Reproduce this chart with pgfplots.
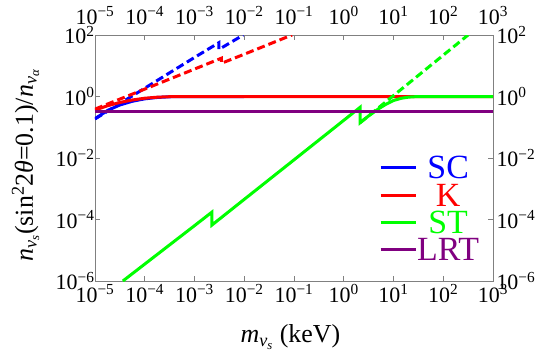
\documentclass[border=0pt]{standalone}
\usepackage{fontspec}
\setmainfont{Liberation Serif}
\usepackage{pgfplots}
\pgfplotsset{compat=1.18}
\newcommand{\tp}[1]{10\textsuperscript{#1}}
\definecolor{pur}{rgb}{0.5,0,0.5}
\definecolor{grn}{rgb}{0,1,0}
\pgfplotsset{
  legend image code/.code={\draw[#1] (0bp,0bp) -- (35bp,0bp);},
}
\begin{document}
\begin{tikzpicture}
\useasboundingbox (-95bp,-76bp) rectangle (450bp,281bp);
\begin{axis}[
    xmode=log, ymode=log,
    scale only axis, width=398bp, height=246bp,
    xmin=1e-5, xmax=1e3, ymin=1e-6, ymax=1e2,
    xtick={1e-5,1e-4,1e-3,1e-2,1e-1,1,10,100,1000},
    xticklabels={\tp{−5},\tp{−4},\tp{−3},\tp{−2},\tp{−1},\tp{0},\tp{1},\tp{2},\tp{3}},
    ytick={1e-6,1e-4,1e-2,1,100},
    yticklabels={\tp{−6},\tp{−4},\tp{−2},\tp{0},\tp{2}},
    minor tick length=0pt,
    major tick length=5bp,
    tick align=inside,
    tick style={gray, line width=0.6bp},
    axis line style={gray, line width=0.8bp},
    ticklabel style={font=\fontsize{22}{22}\selectfont},
  yticklabel style={xshift=3bp},
  xlabel={\textit{m}\textsubscript{\textit{ν}\textsubscript{\textit{s}}} (keV)},
  ylabel={\textit{n}\textsubscript{\textit{ν}\textsubscript{\textit{s}}}(sin\textsuperscript{2}2\textit{θ}=0.1)/\textit{n}\textsubscript{\textit{ν}\textsubscript{\textit{α}}}},
  label style={font=\fontsize{26}{26}\selectfont},
  xlabel style={at={(axis description cs:0.491,-0.252)}, anchor=base},
  ylabel style={at={(axis description cs:-0.156,0.47)}, anchor=base},
  legend cell align=center,
  legend style={at={(axis description cs:0.7136,0.506)}, anchor=north west, draw=none, fill=none,
    inner xsep=0pt, inner ysep=0pt, row sep=5.3bp,
    font=\fontsize{34}{34}\selectfont,
    nodes={inner sep=0pt, text height=22bp, text depth=0bp}},
]
% SC dashed
\addplot[blue, line width=3bp, dash pattern=on 8bp off 4bp, forget plot] coordinates {
(1e-5,0.186) (3.16e-5,0.59) (1e-4,1.86) (3.16e-4,5.9) (1e-3,18.6) (3.09e-3,56.2) (3.09e-3,33.9) (9.55e-3,100)
};
% SC solid
\addplot[blue, line width=3bp, forget plot] coordinates {
(1e-5,0.19) (1.78e-5,0.35) (3.16e-5,0.53) (5.62e-5,0.70) (1e-4,0.84) (1.78e-4,0.93) (3.16e-4,0.98) (5.62e-4,1.0) (1e-2,1.0)
};
% K dashed
\addplot[red, line width=3bp, dash pattern=on 8bp off 4bp, forget plot] coordinates {
(1e-5,0.39) (1e-4,1.74) (1e-3,7.8) (3.47e-3,17.6) (3.47e-3,12.0) (1e-2,23.7) (9.12e-2,100)
};
% K solid
\addplot[red, line width=3bp, forget plot] coordinates {
(1e-5,0.36) (1.78e-5,0.5) (3.16e-5,0.64) (5.62e-5,0.77) (1e-4,0.88) (1.78e-4,0.95) (3.16e-4,0.985) (5.62e-4,1.0) (1e3,1.0)
};
% ST solid
\addplot[grn, line width=3bp, forget plot] coordinates {
(3.63e-5,1e-6) (1e-4,3.55e-6) (1e-3,6.3e-5) (2.24e-3,1.74e-4) (2.24e-3,6.6e-5) (1e-2,4.52e-4) (1e-1,8.7e-3) (1,0.168) (2.14,0.447)
(2.14,0.141) (3.16,0.234) (5.01,0.398) (7.08,0.562) (10,0.741) (14.1,0.871) (20,0.955) (31.6,1.0) (1000,1.0)
};
% ST dashed
\addplot[grn, line width=3bp, dash pattern=on 8bp off 4bp, forget plot] coordinates {
(2.14,0.141) (316,100)
};
% LRT
\addplot[pur, line width=3bp, forget plot] coordinates {
(1e-5,0.316) (1e3,0.316)
};
\addlegendimage{blue, line width=3bp}
\addlegendentry{\textcolor{blue}{SC}}
\addlegendimage{red, line width=3bp}
\addlegendentry{\textcolor{red}{K}}
\addlegendimage{grn, line width=3bp}
\addlegendentry{\textcolor{grn}{ST}}
\addlegendimage{pur, line width=3bp}
\addlegendentry{\textcolor{pur}{LRT}}
\end{axis}
\begin{axis}[
    xmode=log, ymode=log,
    scale only axis, width=398bp, height=246bp,
    xmin=1e-5, xmax=1e3, ymin=1e-6, ymax=1e2,
    xtick={1e-5,1e-4,1e-3,1e-2,1e-1,1,10,100,1000},
    xticklabels={\tp{−5},\tp{−4},\tp{−3},\tp{−2},\tp{−1},\tp{0},\tp{1},\tp{2},\tp{3}},
    ytick={1e-6,1e-4,1e-2,1,100},
    yticklabels={\tp{−6},\tp{−4},\tp{−2},\tp{0},\tp{2}},
    ticklabel style={font=\fontsize{22}{22}\selectfont},
  xticklabel pos=right, yticklabel pos=right,
  axis line style={draw=none}, tick style={draw=none},
  xticklabel style={yshift=7bp},
]
\addplot[draw=none, forget plot] coordinates {(1,1)};
\end{axis}
\end{tikzpicture}
\end{document}
